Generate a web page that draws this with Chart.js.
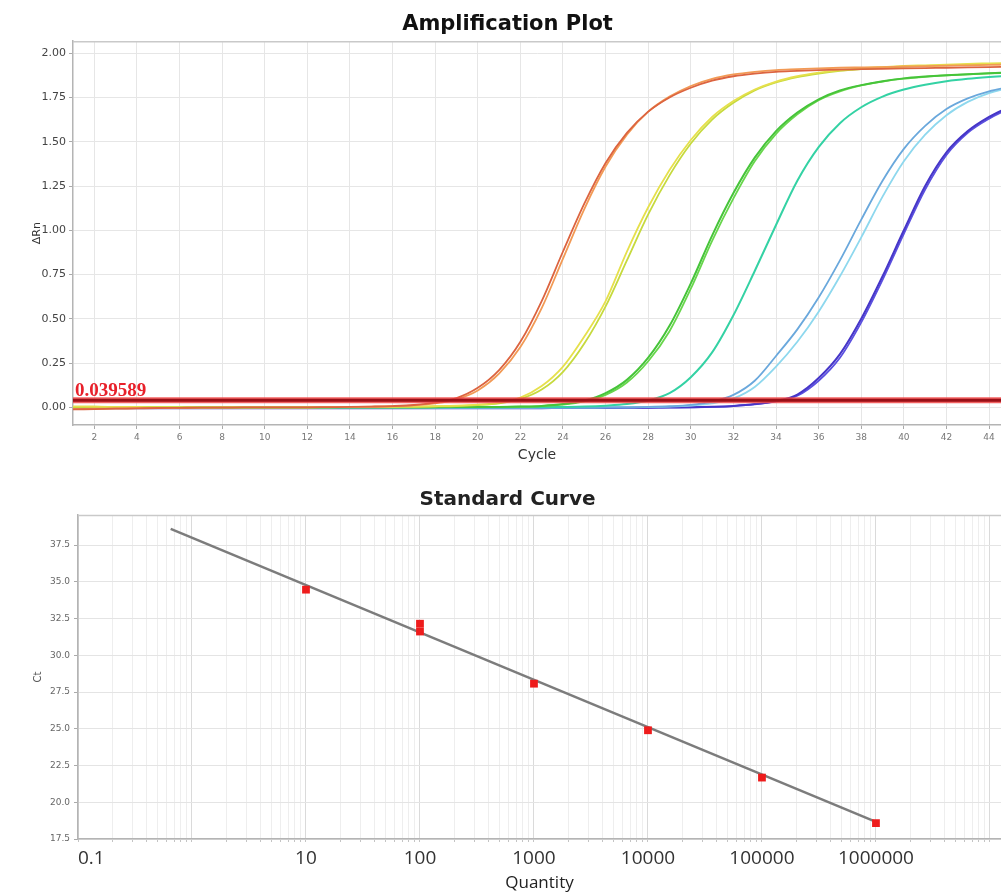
<!DOCTYPE html>
<html>
<head>
<meta charset="utf-8">
<title>Amplification Plot / Standard Curve</title>
<script src="https://cdn.jsdelivr.net/npm/chart.js@4.4.1/dist/chart.umd.min.js"></script>
<style>
  body { margin: 0; background: #fff; }
  .panel { position: absolute; left: 0; width: 1001px; }
  #p1 { top: 0; height: 470px; }
  #p2 { top: 470px; height: 423px; }
</style>
</head>
<body>
<div class="panel" id="p1"><canvas id="amplificacion" width="1001" height="470"></canvas></div>
<div class="panel" id="p2"><canvas id="curvaEstandar" width="1001" height="423"></canvas></div>
<script>
// ---- datos ----
const ciclos = [1, 2, 3, 4, 5, 6, 7, 8, 9, 10, 11, 12, 13, 14, 15, 16, 17, 18, 19, 20, 21, 22, 23,
                24, 25, 26, 27, 28, 29, 30, 31, 32, 33, 34, 35, 36, 37, 38, 39, 40, 41, 42, 43, 44, 45];
const umbral = 0.039589;

const naranja1 = [-0.012, -0.010, -0.008, -0.006, -0.004, -0.003, -0.002, -0.002, -0.001, -0.001, 0.000, 0.000, 0.001, 0.002, 0.004,
                  0.007, 0.013, 0.026, 0.052, 0.11, 0.21, 0.37, 0.60, 0.88, 1.15, 1.38, 1.55, 1.67, 1.75, 1.805,
                  1.845, 1.87, 1.885, 1.895, 1.90, 1.905, 1.908, 1.91, 1.912, 1.914, 1.916, 1.918, 1.92, 1.922, 1.924];
const naranja2 = [-0.009, -0.008, -0.006, -0.005, -0.004, -0.003, -0.002, -0.001, -0.001, 0.000, 0.000, 0.000, 0.001, 0.002, 0.003,
                  0.006, 0.011, 0.022, 0.045, 0.095, 0.19, 0.34, 0.56, 0.84, 1.12, 1.36, 1.54, 1.67, 1.755, 1.815,
                  1.855, 1.88, 1.895, 1.905, 1.91, 1.915, 1.918, 1.92, 1.922, 1.925, 1.927, 1.93, 1.932, 1.934, 1.936];
const amarillo1 = [0.004, 0.003, 0.002, 0.002, 0.001, 0.001, 0.000, 0.000, 0.000, 0.000, 0.000, 0.000, 0.001, 0.001, 0.002,
                   0.003, 0.004, 0.006, 0.009, 0.015, 0.027, 0.055, 0.12, 0.23, 0.40, 0.60, 0.88, 1.13, 1.34, 1.51,
                   1.64, 1.73, 1.795, 1.84, 1.87, 1.89, 1.905, 1.915, 1.922, 1.928, 1.932, 1.936, 1.94, 1.943, 1.946];
const amarillo2 = [0.003, 0.003, 0.002, 0.001, 0.001, 0.000, 0.000, 0.000, 0.000, 0.000, 0.000, 0.000, 0.000, 0.001, 0.001,
                   0.002, 0.003, 0.005, 0.007, 0.012, 0.022, 0.047, 0.10, 0.20, 0.36, 0.57, 0.83, 1.09, 1.31, 1.49,
                   1.625, 1.72, 1.79, 1.835, 1.865, 1.885, 1.90, 1.91, 1.918, 1.924, 1.928, 1.932, 1.935, 1.938, 1.94];
const verde1 = [0.002, 0.002, 0.001, 0.001, 0.001, 0.000, 0.000, 0.000, 0.000, 0.000, 0.000, 0.000, 0.000, 0.000, 0.000,
                0.000, 0.000, 0.001, 0.001, 0.001, 0.002, 0.004, 0.008, 0.018, 0.038, 0.08, 0.155, 0.28, 0.46, 0.70,
                0.97, 1.21, 1.41, 1.56, 1.665, 1.74, 1.79, 1.82, 1.842, 1.858, 1.868, 1.876, 1.882, 1.887, 1.891];
const verde2 = [0.001, 0.001, 0.001, 0.000, 0.000, 0.000, 0.000, 0.000, 0.000, 0.000, 0.000, 0.000, 0.000, 0.000, 0.000,
                0.000, 0.000, 0.000, 0.001, 0.001, 0.002, 0.003, 0.007, 0.015, 0.033, 0.07, 0.14, 0.26, 0.43, 0.67,
                0.94, 1.18, 1.39, 1.545, 1.655, 1.735, 1.785, 1.818, 1.84, 1.856, 1.867, 1.875, 1.881, 1.886, 1.89];
const turquesa = [0.000, 0.000, 0.000, 0.000, 0.000, 0.000, 0.000, 0.000, 0.000, 0.000, 0.000, 0.000, 0.000, 0.000, 0.000,
                  0.000, 0.000, 0.000, 0.000, 0.000, 0.000, 0.001, 0.001, 0.002, 0.004, 0.009, 0.018, 0.038, 0.08, 0.17,
                  0.31, 0.52, 0.77, 1.03, 1.28, 1.47, 1.605, 1.695, 1.755, 1.795, 1.822, 1.842, 1.856, 1.866, 1.874];
const celeste1 = [-0.004, -0.004, -0.004, -0.004, -0.004, -0.004, -0.004, -0.004, -0.004, -0.004, -0.004, -0.004, -0.004, -0.004, -0.004,
                  -0.004, -0.004, -0.004, -0.004, -0.004, -0.003, -0.003, -0.003, -0.002, -0.002, -0.001, 0.000, 0.002, 0.006, 0.014,
                  0.032, 0.07, 0.15, 0.29, 0.44, 0.62, 0.83, 1.06, 1.28, 1.46, 1.59, 1.685, 1.745, 1.785, 1.81];
const celeste2 = [-0.003, -0.003, -0.003, -0.003, -0.003, -0.003, -0.003, -0.003, -0.003, -0.003, -0.003, -0.003, -0.003, -0.003, -0.003,
                  -0.003, -0.003, -0.003, -0.003, -0.003, -0.003, -0.003, -0.002, -0.002, -0.002, -0.001, -0.001, 0.001, 0.004, 0.010,
                  0.022, 0.05, 0.115, 0.23, 0.37, 0.54, 0.74, 0.96, 1.19, 1.39, 1.54, 1.65, 1.725, 1.775, 1.805];
const violeta1 = [-0.006, -0.006, -0.006, -0.006, -0.006, -0.006, -0.006, -0.006, -0.006, -0.006, -0.006, -0.006, -0.006, -0.006, -0.006,
                  -0.006, -0.006, -0.006, -0.006, -0.005, -0.005, -0.005, -0.005, -0.004, -0.004, -0.003, -0.003, -0.002, -0.001, 0.000,
                  0.003, 0.008, 0.018, 0.036, 0.072, 0.165, 0.30, 0.50, 0.74, 1.00, 1.25, 1.44, 1.56, 1.64, 1.70];
const violeta2 = [-0.005, -0.005, -0.005, -0.005, -0.005, -0.005, -0.005, -0.005, -0.005, -0.005, -0.005, -0.005, -0.005, -0.005, -0.005,
                  -0.005, -0.005, -0.005, -0.005, -0.005, -0.005, -0.004, -0.004, -0.004, -0.003, -0.003, -0.002, -0.002, -0.001, 0.000,
                  0.002, 0.007, 0.016, 0.033, 0.065, 0.15, 0.28, 0.48, 0.72, 0.98, 1.23, 1.425, 1.55, 1.63, 1.69];

const ticksCiclo = [2, 4, 6, 8, 10, 12, 14, 16, 18, 20, 22, 24, 26, 28, 30, 32, 34, 36, 38, 40, 42, 44];
const ticksDeltaRn = [0, 0.25, 0.5, 0.75, 1, 1.25, 1.5, 1.75, 2];

// curva estandar
const cantidades = [10, 100, 100, 1000, 10000, 100000, 1000000];
const valoresCt = [34.47, 32.15, 31.62, 28.07, 24.9, 21.68, 18.58];
const ajusteCantidad = [0.65, 1000000];
const ajusteCt = [38.6, 18.66];
const ticksCantidad = [0.1, 10, 100, 1000, 10000, 100000, 1000000];
const ticksCt = [17.5, 20, 22.5, 25, 27.5, 30, 32.5, 35, 37.5];
const decadas = [0.1, 1, 10, 100, 1000, 10000, 100000, 1000000, 10000000];
const maxCantidad = 1.25e7;

// ---- plugins ----
const marco = {
    id: 'marco',
    beforeDatasetsDraw(chart) {
        const {ctx, chartArea: a} = chart;
        ctx.save();
        ctx.strokeStyle = '#c9c9c9';
        ctx.lineWidth = 1.5;
        ctx.beginPath();
        ctx.moveTo(a.left, a.top + 0.5);
        ctx.lineTo(a.right, a.top + 0.5);
        ctx.stroke();
        ctx.restore();
    }
};

const etiquetaUmbral = {
    id: 'etiquetaUmbral',
    afterDatasetsDraw(chart) {
        const {ctx, chartArea} = chart;
        const y = chart.scales.y.getPixelForValue(umbral);
        ctx.save();
        ctx.font = 'bold 19px "Liberation Serif"';
        ctx.fillStyle = '#e8202a';
        ctx.textBaseline = 'alphabetic';
        ctx.fillText(String(umbral), chartArea.left + 2, y - 4);
        ctx.restore();
    }
};

function serie(valores, color, ancho) {
    return {
        data: ciclos.map((c, i) => ({x: c, y: valores[i]})),
        borderColor: color,
        borderWidth: ancho,
        pointRadius: 0,
        cubicInterpolationMode: 'monotone',
        fill: false
    };
}

const lineaUmbral = [{x: ciclos[0], y: umbral}, {x: ciclos[ciclos.length - 1], y: umbral}];

// ---- grafico de amplificacion ----
new Chart(document.getElementById('amplificacion').getContext('2d'), {
    type: 'line',
    data: {
        datasets: [
            {data: lineaUmbral, borderColor: '#9a0f16', borderWidth: 3, pointRadius: 0},
            {data: lineaUmbral, borderColor: 'rgba(240, 70, 70, 0.85)', borderWidth: 6, pointRadius: 0},
            serie(naranja1, '#dc6440', 1.8),
            serie(naranja2, '#f29a55', 1.8),
            serie(amarillo1, '#e6e04c', 1.8),
            serie(amarillo2, '#c6da3e', 1.8),
            serie(verde1, '#46c43a', 2),
            serie(verde2, '#68d64c', 1.8),
            serie(turquesa, '#34d2a4', 2),
            serie(celeste1, '#6aa8dc', 1.8),
            serie(celeste2, '#8ed8ee', 1.8),
            serie(violeta1, '#4636c8', 2),
            serie(violeta2, '#5b50e0', 1.8)
        ]
    },
    options: {
        responsive: false,
        animation: false,
        layout: {autoPadding: false, padding: {left: 14, right: 0, top: 0, bottom: 0}},
        plugins: {
            legend: {display: false},
            tooltip: {enabled: false},
            title: {
                display: true,
                text: 'Amplification Plot',
                color: '#111',
                font: {family: 'DejaVu Sans', size: 21, weight: 'bold'},
                padding: {top: 12, bottom: 4}
            }
        },
        scales: {
            x: {
                type: 'linear',
                min: 1,
                max: 44.56,
                afterBuildTicks: s => { s.ticks = ticksCiclo.map(v => ({value: v})); },
                afterFit: s => { s.height = 45; },
                grid: {color: '#e6e6e6', tickLength: 4, tickColor: '#aaa'},
                border: {color: '#b4b4b4', width: 1.5},
                ticks: {color: '#777', font: {family: 'DejaVu Sans', size: 9}, padding: 3, maxRotation: 0, autoSkip: false},
                title: {display: true, text: 'Cycle', color: '#333', font: {family: 'DejaVu Sans', size: 14}, padding: {top: 0, bottom: 6}}
            },
            y: {
                min: -0.1,
                max: 2.068,
                afterBuildTicks: s => { s.ticks = ticksDeltaRn.map(v => ({value: v})); },
                afterFit: s => { s.width = 59; },
                grid: {color: '#e6e6e6', tickLength: 4, tickColor: '#aaa'},
                border: {color: '#b4b4b4', width: 1.5},
                ticks: {callback: v => v.toFixed(2), color: '#444', font: {family: 'DejaVu Sans', size: 11}, padding: 3, autoSkip: false},
                title: {display: true, text: 'ΔRn', color: '#333', font: {family: 'DejaVu Sans', size: 11}, padding: {top: 17, bottom: 0}}
            }
        }
    },
    plugins: [marco, etiquetaUmbral]
});

// ---- curva estandar ----
const gridCantidad = [];
decadas.forEach(d => {
    for (let m = 1; m <= 9; m++) {
        const v = m === 1 ? d : m * d;
        if (v <= maxCantidad) gridCantidad.push(v);
    }
});

new Chart(document.getElementById('curvaEstandar').getContext('2d'), {
    type: 'scatter',
    data: {
        datasets: [
            {
                data: cantidades.map((q, i) => ({x: q, y: valoresCt[i]})),
                pointStyle: 'rect',
                pointRadius: 5.5,
                backgroundColor: '#ee1c1c',
                borderColor: '#ee1c1c',
                borderWidth: 0
            },
            {
                data: ajusteCantidad.map((q, i) => ({x: q, y: ajusteCt[i]})),
                showLine: true,
                borderColor: '#7c7c7c',
                borderWidth: 2.5,
                pointRadius: 0
            }
        ]
    },
    options: {
        responsive: false,
        animation: false,
        layout: {autoPadding: false, padding: {left: 14, right: 0, top: 0, bottom: 0}},
        plugins: {
            legend: {display: false},
            tooltip: {enabled: false},
            title: {
                display: true,
                text: 'Standard Curve',
                color: '#222',
                font: {family: 'DejaVu Sans', size: 20, weight: 'bold'},
                padding: {top: 18, bottom: 3}
            }
        },
        scales: {
            x: {
                type: 'logarithmic',
                min: 0.1,
                max: maxCantidad,
                afterBuildTicks: s => { s.ticks = gridCantidad.map(v => ({value: v})); },
                afterFit: s => { s.height = 54; s.paddingRight = 0; s.paddingLeft = 0; },
                grid: {
                    color: c => (decadas.includes(c.tick && c.tick.value) ? '#dadada' : '#eeeeee'),
                    tickLength: 3,
                    tickColor: '#c4c4c4'
                },
                border: {color: '#b4b4b4', width: 1.5},
                ticks: {
                    callback: v => (ticksCantidad.includes(v) ? String(v) : ''),
                    color: '#333',
                    font: {family: 'Open Sans', size: 19},
                    padding: 5,
                    align: 'inner',
                    maxRotation: 0,
                    autoSkip: false
                },
                title: {display: true, text: 'Quantity', color: '#222', font: {family: 'Open Sans', size: 17}, padding: {top: 0, bottom: 0}}
            },
            y: {
                min: 17.5,
                max: 39.55,
                afterBuildTicks: s => { s.ticks = ticksCt.map(v => ({value: v})); },
                afterFit: s => { s.width = 64; },
                grid: {color: '#e4e4e4', tickLength: 4, tickColor: '#aaa'},
                border: {color: '#b4b4b4', width: 1.5},
                ticks: {callback: v => v.toFixed(1), color: '#666', font: {family: 'DejaVu Sans', size: 9}, padding: 4, autoSkip: false},
                title: {display: true, text: 'Ct', color: '#555', font: {family: 'DejaVu Sans', size: 10}, padding: {top: 18, bottom: 0}}
            }
        }
    },
    plugins: [marco]
});
</script>
</body>
</html>
